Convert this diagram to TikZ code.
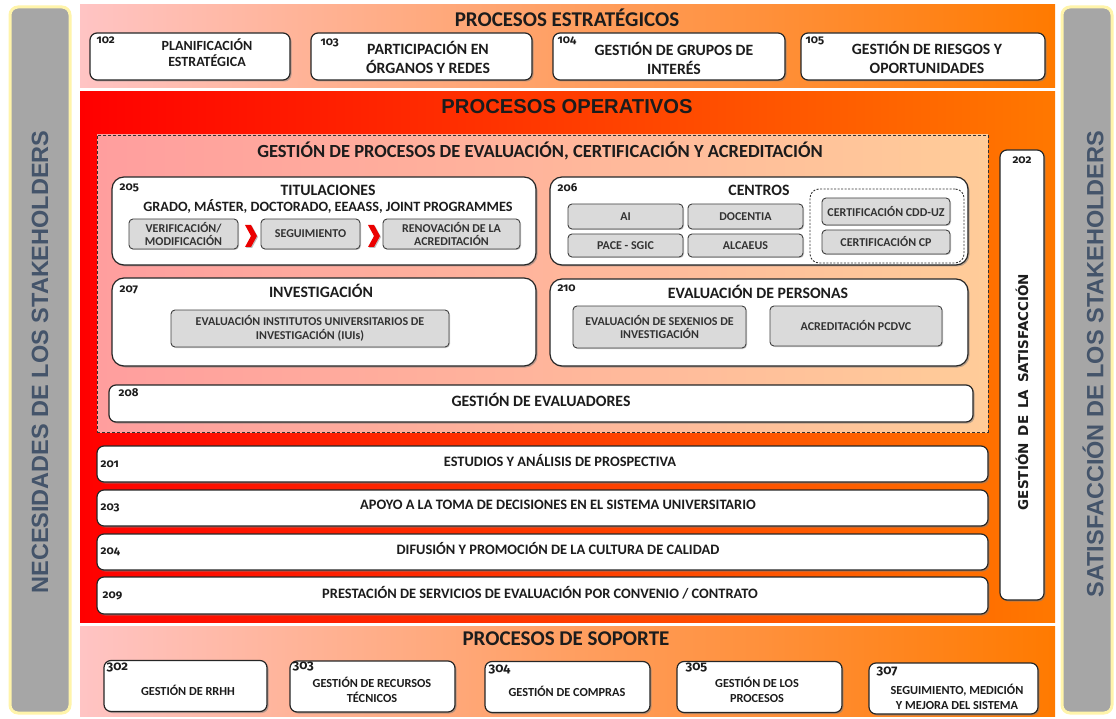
\documentclass[tikz,border=0pt]{standalone}
\usepackage{fontspec}
\setmainfont{Carlito}
\newfontfamily\sidefont{Liberation Sans}
\newfontfamily\verdfont{DejaVu Sans}
\newfontfamily\numfont{Fira Sans}[Numbers=OldStyle]
\usetikzlibrary{shadows}
\definecolor{bandpink}{RGB}{255,196,196}
\definecolor{bandorange}{RGB}{255,122,0}
\definecolor{operred}{RGB}{255,0,0}
\definecolor{operorange}{RGB}{255,120,0}
\definecolor{dashpink}{RGB}{255,158,158}
\definecolor{dashorange}{RGB}{255,204,153}
\definecolor{sidegray}{RGB}{166,166,166}
\definecolor{sideyellow}{RGB}{255,244,170}
\definecolor{sidetext}{RGB}{68,84,106}
\definecolor{boxgray}{RGB}{218,218,218}
\definecolor{inktext}{RGB}{28,28,28}
\tikzset{
    box/.style={
        draw=black!85,
        line width=1.2pt,
        fill=white,
        rounded corners=7pt,
        drop shadow={shadow xshift=1.5pt, shadow yshift=-1.5pt, opacity=0.55}
    },
    graybox/.style={
        draw=black!75,
        line width=0.9pt,
        fill=boxgray,
        rounded corners=4pt,
        drop shadow={shadow xshift=1pt, shadow yshift=-1pt, opacity=0.4},
        align=center,
        text=black!80,
        font=\bfseries\fontsize{12}{13.5}\selectfont
    }
}

\begin{document}
\begin{tikzpicture}[x=1pt, y=-1pt, inner sep=0pt, text=inktext]

    \tikzstyle{sidebar} = [
        draw=sideyellow,
        line width=3pt,
        fill=sidegray,
        rounded corners=8pt,
        minimum width=60pt,
        minimum height=706pt
    ]
    \tikzstyle{sidetxt} = [
        rotate=90,
        text=sidetext,
        font=\sidefont\bfseries\fontsize{23.5}{26}\selectfont
    ]
    \tikzstyle{band} = [minimum width=975pt]
    \tikzstyle{bandtitle} = [font=\bfseries\fontsize{21}{23}\selectfont]
    \tikzstyle{num} = [anchor=north west, font=\numfont\bfseries\fontsize{11.5}{12}\selectfont]
    \tikzstyle{bignum} = [anchor=north west, font=\numfont\bfseries\fontsize{13}{14}\selectfont]
    \tikzstyle{boxtext} = [align=center, font=\bfseries\fontsize{15.7}{19}\selectfont]
    \tikzstyle{subtext} = [align=center, font=\bfseries\fontsize{15.8}{18}\selectfont]
    \tikzstyle{rowtext} = [font=\bfseries\fontsize{14.4}{16}\selectfont]
    \tikzstyle{supptext} = [align=center, font=\bfseries\fontsize{12.3}{14.5}\selectfont]
    \tikzstyle{chev} = [
        fill=red!92!black,
        drop shadow={shadow xshift=1pt, shadow yshift=-1pt, opacity=0.5}
    ]

    % fondo
    \path[use as bounding box, fill=white] (0,0) rectangle (1116,719);

    % barras laterales
    \node[sidebar] (lbar) at (40,360) {};
    \node[sidebar, minimum width=50pt] (rbar) at (1087,360) {};
    \node[sidetxt] (ltxt) at (40,362) {NECESIDADES DE LOS STAKEHOLDERS};
    \node[sidetxt] (rtxt) at (1093,364) {SATISFACCIÓN DE LOS STAKEHOLDERS};

    % bandas
    \node[band, left color=bandpink, right color=bandorange, minimum height=83pt] (strat) at (567.5,46.5) {};
    \node[band, left color=operred, right color=operorange, minimum height=530pt] (oper) at (567.5,357) {};
    \node[band, left color=bandpink, right color=bandorange, minimum height=90pt] (supp) at (567.5,671) {};

    \node[bandtitle] (tstrat) at (567,18) {PROCESOS ESTRATÉGICOS};
    \node[font=\sidefont\bfseries\fontsize{20.2}{22}\selectfont] (toper) at (567,107) {PROCESOS OPERATIVOS};
    \node[bandtitle] (tsupp) at (566,639) {PROCESOS DE SOPORTE};

    % procesos estrategicos
    \node[box, minimum width=200pt, minimum height=47pt] (b102) at (190,56.5) {};
    \node[box, minimum width=221pt, minimum height=47pt] (b103) at (421.5,56.5) {};
    \node[box, minimum width=232pt, minimum height=47pt] (b104) at (669,56.5) {};
    \node[box, minimum width=244pt, minimum height=47pt] (b105) at (923,56.5) {};
    \node[num] (n102) at ([shift={(7,4)}]b102.north west) {102};
    \node[num] (n103) at ([shift={(10,6)}]b103.north west) {103};
    \node[num] (n104) at ([shift={(5,4)}]b104.north west) {104};
    \node[num] (n105) at ([shift={(5,4)}]b105.north west) {105};
    \node[boxtext, font=\bfseries\fontsize{14}{16}\selectfont] (t102) at (207,53) {PLANIFICACIÓN\\ESTRATÉGICA};
    \node[boxtext] (t103) at (428,57) {PARTICIPACIÓN EN\\ÓRGANOS Y REDES};
    \node[boxtext] (t104) at (674,58) {GESTIÓN DE GRUPOS DE\\INTERÉS};
    \node[boxtext] (t105) at (927,57) {GESTIÓN DE RIESGOS Y\\OPORTUNIDADES};

    % gestion de procesos de evaluacion
    \node[band, draw=black!80, line width=0.8pt, dash pattern=on 3pt off 2pt,
        left color=dashpink, right color=dashorange,
        minimum width=891pt, minimum height=297pt] (eval) at (542.5,283.5) {};
    \node[font=\bfseries\fontsize{18.5}{20}\selectfont] (teval) at (540,151) {GESTIÓN DE PROCESOS DE EVALUACIÓN, CERTIFICACIÓN Y ACREDITACIÓN};

    % 205 titulaciones
    \node[box, rounded corners=12pt, minimum width=424pt, minimum height=88pt] (b205) at (324,221) {};
    \node[num] (n205) at ([shift={(8,7)}]b205.north west) {205};
    \node[subtext] (t205) at (328,190) {TITULACIONES};
    \node[subtext, font=\bfseries\fontsize{14.2}{15}\selectfont] (s205) at (328,206) {GRADO, MÁSTER, DOCTORADO, EEAASS, JOINT PROGRAMMES};
    \node[graybox, minimum width=109pt, minimum height=30pt] (verif) at (183.5,234) {VERIFICACIÓN/\\MODIFICACIÓN};
    \node[graybox, minimum width=99pt, minimum height=30pt] (segui) at (310.5,234) {SEGUIMIENTO};
    \node[graybox, minimum width=137pt, minimum height=30pt] (renov) at (451.5,234) {RENOVACIÓN DE LA\\ACREDITACIÓN};
    \coordinate (c1) at (251,236);
    \coordinate (c2) at (374,236);
    \fill[chev] (c1) ++(-6,-11) -- ++(6,0) -- ++(6,11) -- ++(-6,11) -- ++(-6,0) -- ++(6,-11) -- cycle;
    \fill[chev] (c2) ++(-6,-11) -- ++(6,0) -- ++(6,11) -- ++(-6,11) -- ++(-6,0) -- ++(6,-11) -- cycle;

    % 206 centros
    \node[box, rounded corners=12pt, minimum width=418pt, minimum height=88pt] (b206) at (759,221) {};
    \node[num] (n206) at ([shift={(8,7)}]b206.north west) {206};
    \node[subtext] (t206) at (759,190) {CENTROS};
    \node[graybox, minimum width=115pt, minimum height=25pt] (ai) at (625.5,216.5) {AI};
    \node[graybox, minimum width=115pt, minimum height=25pt] (docentia) at (745.5,216.5) {DOCENTIA};
    \node[graybox, minimum width=115pt, minimum height=23pt] (pace) at (625.5,245.5) {PACE - SGIC};
    \node[graybox, minimum width=115pt, minimum height=23pt] (alcaeus) at (745.5,245.5) {ALCAEUS};
    \node[draw=black!80, line width=0.9pt, dash pattern=on 2pt off 1.5pt, rounded corners=9pt,
        minimum width=154pt, minimum height=74pt] (cert) at (887,226) {};
    \node[graybox, minimum width=128pt, minimum height=27pt] (cdduz) at (886,211.5) {CERTIFICACIÓN CDD-UZ};
    \node[graybox, minimum width=128pt, minimum height=24pt] (certcp) at (886,242) {CERTIFICACIÓN CP};

    % 207 investigacion
    \node[box, rounded corners=12pt, minimum width=424pt, minimum height=88pt] (b207) at (324,322) {};
    \node[num] (n207) at ([shift={(8,8)}]b207.north west) {207};
    \node[subtext] (t207) at (321,291) {INVESTIGACIÓN};
    \node[graybox, minimum width=278pt, minimum height=37pt] (iuis) at (310,328.5) {EVALUACIÓN INSTITUTOS UNIVERSITARIOS DE\\INVESTIGACIÓN (IUIs)};

    % 210 evaluacion de personas
    \node[box, rounded corners=12pt, minimum width=418pt, minimum height=87pt] (b210) at (759,322.5) {};
    \node[num] (n210) at ([shift={(8,6)}]b210.north west) {210};
    \node[subtext] (t210) at (758,292) {EVALUACIÓN DE PERSONAS};
    \node[graybox, minimum width=173pt, minimum height=42pt] (sexen) at (659.5,327) {EVALUACIÓN DE SEXENIOS DE\\INVESTIGACIÓN};
    \node[graybox, minimum width=172pt, minimum height=40pt] (pcdvc) at (856,326) {ACREDITACIÓN PCDVC};

    % 208 evaluadores
    \node[box, minimum width=864pt, minimum height=37pt] (b208) at (541,403.5) {};
    \node[num] (n208) at ([shift={(10,4)}]b208.north west) {208};
    \node[subtext] (t208) at (541,400) {GESTIÓN DE EVALUADORES};

    % procesos operativos restantes
    \node[box, minimum width=891pt, minimum height=36pt] (r201) at (542.5,464) {};
    \node[box, minimum width=891pt, minimum height=36pt] (r203) at (542.5,508) {};
    \node[box, minimum width=891pt, minimum height=36pt] (r204) at (542.5,552) {};
    \node[box, minimum width=891pt, minimum height=37pt] (r209) at (542.5,595.5) {};
    \node[num, anchor=west] (n201) at ([xshift=4pt]r201.west) {201};
    \node[num, anchor=west] (n203) at ([xshift=4pt]r203.west) {203};
    \node[num, anchor=west] (n204) at ([xshift=4pt]r204.west) {204};
    \node[num, anchor=west] (n209) at ([xshift=6pt]r209.west) {209};
    \node[rowtext] (t201) at (560,461) {ESTUDIOS Y ANÁLISIS DE PROSPECTIVA};
    \node[rowtext] (t203) at (558,505) {APOYO A LA TOMA DE DECISIONES EN EL SISTEMA UNIVERSITARIO};
    \node[rowtext] (t204) at (558,549) {DIFUSIÓN Y PROMOCIÓN DE LA CULTURA DE CALIDAD};
    \node[rowtext] (t209) at (540,593) {PRESTACIÓN DE SERVICIOS DE EVALUACIÓN POR CONVENIO / CONTRATO};

    % 202 satisfaccion
    \node[box, minimum width=44pt, minimum height=450pt] (b202) at (1022,375) {};
    \node[num, anchor=north] (n202) at ([yshift=-7pt]b202.north) {202};
    \node[rotate=90, font=\verdfont\bfseries\fontsize{13.5}{15}\selectfont] (t202) at (1022,392) {GESTIÓN\, DE\, LA\, SATISFACCIÓN};

    % procesos de soporte
    \node[box, minimum width=163pt, minimum height=51pt] (s302) at (185.5,686) {};
    \node[box, minimum width=165pt, minimum height=51pt] (s303) at (372.5,686.5) {};
    \node[box, minimum width=165pt, minimum height=51pt] (s304) at (567.5,687) {};
    \node[box, minimum width=165pt, minimum height=51pt] (s305) at (759.5,687) {};
    \node[box, minimum width=169pt, minimum height=51pt] (s307) at (953.5,688.5) {};
    \node[bignum] (n302) at ([shift={(3,3)}]s302.north west) {302};
    \node[bignum] (n303) at ([shift={(3,1)}]s303.north west) {303};
    \node[bignum] (n304) at ([shift={(4,4)}]s304.north west) {304};
    \node[bignum] (n305) at ([shift={(9,2)}]s305.north west) {305};
    \node[bignum] (n307) at ([shift={(8,4)}]s307.north west) {307};
    \node[supptext] (t302) at (188,690) {GESTIÓN DE RRHH};
    \node[supptext] (t303) at (372,690) {GESTIÓN DE RECURSOS\\TÉCNICOS};
    \node[supptext] (t304) at (567,691) {GESTIÓN DE COMPRAS};
    \node[supptext] (t305) at (757,690) {GESTIÓN DE LOS\\PROCESOS};
    \node[supptext] (t307) at (957,697) {SEGUIMIENTO, MEDICIÓN\\Y MEJORA DEL SISTEMA};

\end{tikzpicture}
\end{document}
